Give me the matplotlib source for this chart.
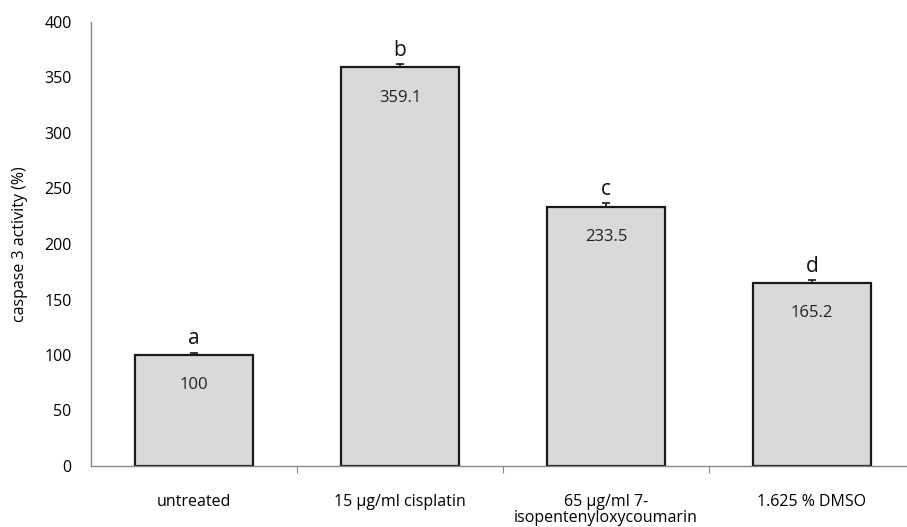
import matplotlib.pyplot as plt

categories = ["untreated", "15 µg/ml cisplatin", "65 µg/ml 7-\nisopentenyloxycoumarin", "1.625 % DMSO"]
values = [100, 359.1, 233.5, 165.2]
errors = [2, 3, 3.5, 2]
value_labels = ["100", "359.1", "233.5", "165.2"]
letters = ["a", "b", "c", "d"]

plt.rcParams['font.family'] = ['Open Sans', 'DejaVu Sans']

fig = plt.figure(figsize=(9.07, 5.27), dpi=100)
ax = fig.add_axes([91 / 907, 61 / 527, 824 / 907, 444 / 527])

x = list(range(len(categories)))
ax.bar(x, values, width=0.57, color='#d9d9d9', edgecolor='#1a1a1a', linewidth=1.6)
ax.errorbar(x, values, yerr=[[0] * len(errors), errors], fmt='none',
            ecolor='#1a1a1a', elinewidth=1.2, capsize=3, capthick=1.2)

for xi, v, e, lab, let in zip(x, values, errors, value_labels, letters):
    ax.text(xi, v - 20, lab, ha='center', va='top', fontsize=12, color='#222222')
    ax.text(xi, v + e + 3, let, ha='center', va='bottom', fontsize=15, color='#111111')

ax.set_xlim(-0.5, len(categories) - 0.5)
ax.set_ylim(0, 400)
ax.set_yticks(range(0, 401, 50))
ax.tick_params(axis='y', length=0, labelsize=11.5, pad=14)

# category labels between boundary ticks, like the spreadsheet style
ax.set_xticks([i + 0.5 for i in range(len(categories) - 1)])
ax.set_xticklabels([])
ax.set_xticks(x, minor=True)
ax.set_xticklabels(categories, minor=True, fontsize=11.5, linespacing=1.05)
ax.tick_params(axis='x', which='major', length=5, color='#888888', direction='out')
ax.tick_params(axis='x', which='minor', length=0, pad=20)

for side in ['top', 'right']:
    ax.spines[side].set_visible(False)
for side in ['left', 'bottom']:
    ax.spines[side].set_color('#888888')
    ax.spines[side].set_linewidth(1.0)

ax.set_ylabel("caspase 3 activity (%)", fontsize=11.5, labelpad=12)

fig.savefig("out.png", dpi=100)
